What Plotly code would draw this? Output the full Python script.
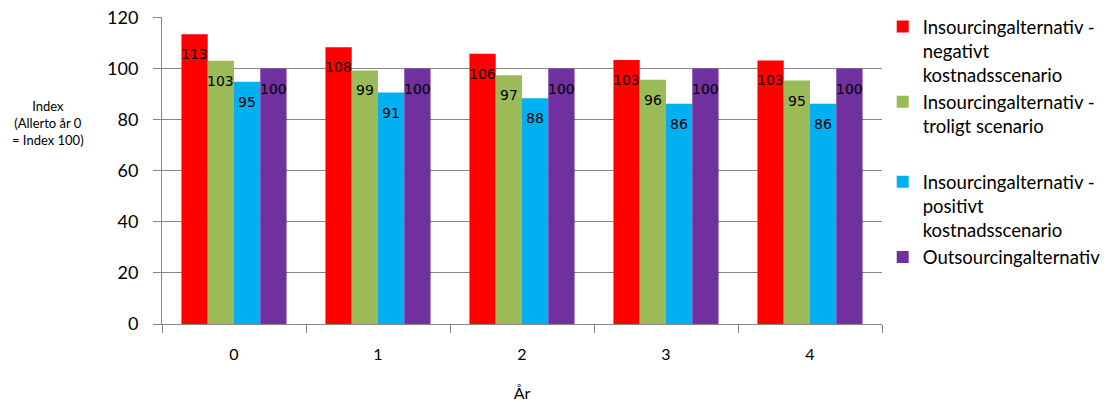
import plotly.graph_objects as go

# År (x-kategorier)
years = ["0", "1", "2", "3", "4"]

# Indexvärden per scenario
neg_values = [113.4, 108.4, 105.8, 103.4, 103.2]
troligt_values = [103.1, 99.3, 97.4, 95.6, 95.3]
pos_values = [94.8, 90.6, 88.4, 86.2, 86.2]
outsourcing_values = [100, 100, 100, 100, 100]

series_names = [
    "Insourcingalternativ -<br>negativt<br>kostnadsscenario",
    "Insourcingalternativ -<br>troligt scenario",
    "Insourcingalternativ -<br>positivt<br>kostnadsscenario",
    "Outsourcingalternativ",
]
series_values = [neg_values, troligt_values, pos_values, outsourcing_values]
colors = ["#FF0000", "#9BBB59", "#00B0F0", "#7030A0"]
groups = ["a", "a", "b", "b"]

bargap = 0.27
bar_w = (1 - bargap) / len(series_values)

fig = go.Figure()
labels = []
for k, (name, vals, col, grp) in enumerate(zip(series_names, series_values, colors, groups)):
    fig.add_trace(go.Bar(
        x=years,
        y=vals,
        name=name,
        legendgroup=grp,
        marker=dict(color=col, line=dict(width=0)),
    ))
    # dataetiketter strax under stapelns topp
    off = (k - (len(series_values) - 1) / 2) * bar_w
    for i, v in enumerate(vals):
        labels.append(dict(
            x=i + off, y=v, xref="x", yref="y",
            text=f"{v:.0f}", showarrow=False,
            yanchor="middle", yshift=-20,
            font=dict(family="DejaVu Sans", size=14, color="black"),
        ))

grid = "#868686"
fig.update_layout(
    width=1102, height=394,
    margin=dict(l=154, r=228, t=9, b=78, autoexpand=False),
    paper_bgcolor="white",
    plot_bgcolor="white",
    barmode="group",
    bargap=bargap,
    bargroupgap=0,
    font=dict(family="Lato", color="black"),
    legend=dict(
        x=1.001, xanchor="left",
        yref="container", y=1.0, yanchor="top",
        maxheight=390,
        font=dict(size=18.5, family="Lato"),
        valign="top",
        tracegroupgap=29,
        itemsizing="constant",
    ),
    xaxis=dict(
        showline=True, linecolor=grid, linewidth=1,
        ticks="outside", tickson="boundaries", ticklen=8, tickcolor=grid,
        tickfont=dict(size=16),
        ticklabelstandoff=16,
        automargin=False,
        title=dict(text="År", font=dict(size=16), standoff=26),
    ),
    yaxis=dict(
        range=[0, 120.2], dtick=20,
        showline=True, linecolor=grid, linewidth=1,
        showgrid=True, gridcolor=grid, gridwidth=1,
        ticks="outside", ticklen=8, tickcolor=grid,
        tickfont=dict(size=18),
        ticklabelstandoff=11,
        ticklabeloverflow="allow",
        automargin=False,
        zeroline=False,
    ),
    annotations=labels + [dict(
        text="Index<br>(Allerto år 0<br>= Index 100)",
        xref="paper", yref="paper", x=-0.158, y=0.655,
        xanchor="center", yanchor="middle",
        showarrow=False, align="center",
        font=dict(size=13, family="Lato"),
    )],
)

fig.write_html("out.html")
